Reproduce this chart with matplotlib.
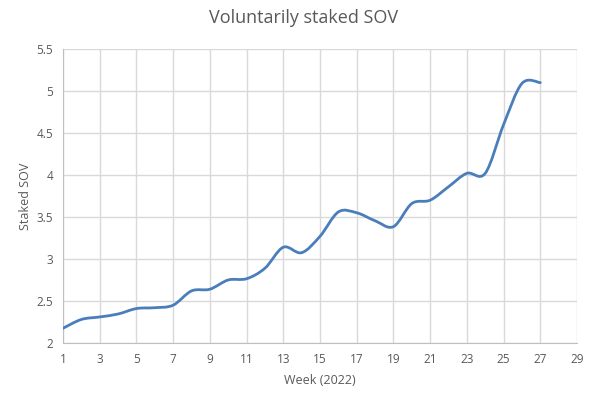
import matplotlib.pyplot as plt
import numpy as np
from matplotlib.path import Path
from matplotlib.patches import PathPatch

plt.rcParams['font.family'] = ['Open Sans', 'DejaVu Sans']

weeks = list(range(1, 28))
staked = [2.175, 2.28, 2.31, 2.345, 2.41, 2.42, 2.45, 2.62, 2.64, 2.75,
          2.765, 2.89, 3.14, 3.075, 3.27, 3.56, 3.55, 3.455, 3.385, 3.66,
          3.70, 3.86, 4.02, 4.02, 4.60, 5.09, 5.10]

x_ticks = list(range(1, 30, 2))
y_ticks = [2, 2.5, 3, 3.5, 4, 4.5, 5, 5.5]

text_col = '#595959'
grid_col = '#d9d9d9'
line_col = '#4a7ebb'

fig = plt.figure(figsize=(6.07, 3.99), dpi=100)
ax = fig.add_axes([0.1038, 0.1404, 0.8468, 0.7368])

# Excel-style smoothed line: cubic Bezier through each point
x = np.array(weeks, dtype=float)
y = np.array(staked, dtype=float)
verts = [(x[0], y[0])]
codes = [Path.MOVETO]
n = len(x)
for i in range(n - 1):
    x0, y0 = (x[i - 1], y[i - 1]) if i > 0 else (x[i], y[i])
    x3, y3 = (x[i + 2], y[i + 2]) if i + 2 < n else (x[i + 1], y[i + 1])
    c1 = (x[i] + (x[i + 1] - x0) / 6, y[i] + (y[i + 1] - y0) / 6)
    c2 = (x[i + 1] - (x3 - x[i]) / 6, y[i + 1] - (y3 - y[i]) / 6)
    verts += [c1, c2, (x[i + 1], y[i + 1])]
    codes += [Path.CURVE4] * 3
ax.add_patch(PathPatch(Path(verts, codes), facecolor='none', edgecolor=line_col,
                       lw=2.0, capstyle='round', joinstyle='round', zorder=3))

ax.set_xlim(1, 29)
ax.set_ylim(2, 5.5)
ax.set_xticks(x_ticks)
ax.set_yticks(y_ticks)
ax.set_yticklabels([f'{v:g}' for v in y_ticks])
ax.grid(True, color=grid_col, lw=1)
ax.set_axisbelow(True)
for s in ['top', 'right']:
    ax.spines[s].set_visible(False)
for s in ['left', 'bottom']:
    ax.spines[s].set_color('#bfbfbf')
ax.tick_params(length=0, labelsize=8.5, colors=text_col, pad=7)

ax.set_xlabel('Week (2022)', fontsize=9, color=text_col, labelpad=6)
ax.set_ylabel('Staked SOV', fontsize=9, color=text_col, labelpad=3)
fig.text(0.5, 0.955, 'Voluntarily staked SOV', ha='center', va='center',
         fontsize=13, color=text_col)

plt.savefig('out.png', dpi=100)
plt.close()
